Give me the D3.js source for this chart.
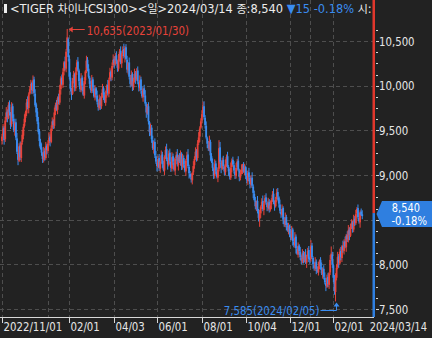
<!DOCTYPE html>
<html>
<head>
<meta charset="utf-8">
<script src="https://cdn.jsdelivr.net/npm/d3@7"></script>
<style>
  html, body { margin: 0; padding: 0; background: #222; }
  svg { display: block; }
  text { font-family: "Liberation Sans Narrow", "Arial Narrow", "DejaVu Sans Condensed", sans-serif; }
</style>
</head>
<body>
<svg id="chart" width="432" height="338"></svg>
<script>
// TIGER 차이나CSI300, daily candles 2022/11/01 - 2024/03/14
const opens = [
  9380,9440,9530,9400,9620,9710,9640,9790,9690,9570,
  9770,9630,9490,9590,9410,9250,9160,9330,9190,9370,
  9440,9550,9640,9690,9820,9750,9910,9950,10030,9940,
  10070,9910,9790,9710,9590,9490,9370,9310,9240,9170,
  9270,9190,9330,9270,9360,9430,9370,9530,9610,9550,
  9710,9790,9730,9870,9810,9960,10090,10010,10160,10270,
  10190,10400,10520,10300,10090,9950,9910,10060,10130,9970,
  10160,10270,10170,10040,9950,10090,9990,9890,10060,10170,
  10290,10190,10090,10010,9940,10070,9970,9870,9970,9890,
  9810,9750,9860,9770,9890,9970,9890,9810,9910,10010,
  9910,10070,10160,10090,10230,10300,10240,10340,10270,10190,
  10310,10390,10250,10360,10410,10320,10430,10290,10170,10260,
  10090,10010,10130,9980,10060,10140,10070,10170,10040,9970,
  10070,9940,9870,9970,9890,9790,9690,9770,9590,9470,
  9530,9390,9290,9370,9210,9140,9090,9190,9070,9160,
  9230,9110,9050,9210,9290,9170,9110,9250,9150,9070,
  9210,9140,9050,9190,9230,9110,9210,9140,9240,9090,
  9190,9110,9040,9170,9230,9090,9010,8970,8940,9030,
  9110,9190,9270,9190,9360,9430,9530,9610,9690,9770,
  9640,9550,9410,9340,9290,9370,9210,9140,9070,8990,
  9130,9040,8970,9070,9310,9140,9070,9170,9090,9030,
  9130,9210,9090,9030,8970,9090,9170,9110,9040,8990,
  9090,9160,9050,8970,9030,9070,9110,9030,9090,8990,
  8930,9030,8970,8890,8970,8870,8790,8710,8640,8710,
  8590,8510,8570,8650,8710,8610,8690,8750,8690,8630,
  8700,8610,8670,8730,8790,8690,8650,8730,8810,8750,
  8670,8590,8550,8630,8490,8440,8530,8430,8370,8430,
  8340,8290,8390,8250,8210,8310,8170,8110,8210,8140,
  8070,8030,8130,8050,8110,8020,8090,8160,8070,8060,
  8210,8070,7990,7950,8030,7940,7910,7990,8050,7970,
  7890,7950,7850,7790,7750,7860,7770,7910,8060,8110,
  7990,7840,7690,7850,7970,8090,8010,8150,8070,8210,
  8150,8260,8190,8330,8270,8390,8320,8430,8470,8390,
  8510,8460,8570,8630,8520,8470,8590,8560
];
const highs = [
  9460,9570,9550,9650,9760,9735,9815,9835,9705,9815,
  9800,9680,9600,9630,9470,9275,9355,9375,9375,9505,
  9570,9680,9720,9850,9880,9925,9995,10065,10045,10115,
  10100,9960,9810,9750,9650,9515,9405,9355,9255,9315,
  9300,9370,9350,9390,9480,9455,9555,9645,9625,9755,
  9810,9840,9880,9910,10010,10105,10125,10195,10275,10325,
  10410,10635,10540,10340,10150,9975,10085,10165,10145,10205,
  10290,10320,10190,10080,10140,10115,10025,10095,10175,10335,
  10320,10240,10110,10050,10120,10095,10005,10005,9985,9945,
  9840,9900,9880,9920,10020,9995,9925,9945,10015,10065,
  10090,10200,10180,10260,10350,10325,10365,10385,10285,10355,
  10410,10440,10370,10440,10470,10445,10465,10335,10265,10315,
  10120,10170,10150,10090,10190,10165,10195,10215,10055,10115,
  10100,9990,9980,10010,9950,9815,9795,9815,9605,9575,
  9560,9440,9380,9410,9270,9165,9215,9235,9165,9275,
  9260,9160,9220,9320,9350,9195,9275,9295,9165,9255,
  9240,9190,9200,9260,9290,9225,9245,9275,9255,9235,
  9220,9160,9180,9260,9290,9115,9045,9015,9035,9155,
  9210,9310,9290,9390,9480,9545,9635,9725,9820,9825,
  9670,9600,9430,9380,9440,9395,9245,9185,9085,9175,
  9160,9090,9080,9390,9370,9165,9195,9215,9105,9175,
  9230,9260,9110,9070,9140,9185,9205,9155,9055,9135,
  9180,9210,9070,9060,9120,9125,9145,9125,9105,9045,
  9050,9080,8990,9000,9030,8895,8825,8755,8715,8765,
  8620,8610,8660,8740,8770,8705,8775,8795,8705,8745,
  8730,8710,8740,8820,8850,8715,8755,8845,8855,8765,
  8725,8620,8670,8650,8530,8580,8555,8465,8465,8445,
  8395,8430,8410,8290,8360,8335,8205,8245,8225,8195,
  8100,8170,8150,8140,8170,8105,8185,8205,8085,8270,
  8240,8090,8030,8080,8055,7975,8025,8055,8080,8020,
  7960,7990,7910,7815,7885,7905,7915,8105,8200,8140,
  8010,7880,7900,8000,8140,8115,8175,8195,8215,8265,
  8280,8310,8340,8370,8440,8415,8455,8505,8485,8555,
  8540,8610,8640,8670,8580,8605,8625,8605
];
const lows = [
  9340,9420,9340,9370,9595,9590,9625,9665,9515,9540,
  9600,9480,9440,9390,9235,9110,9145,9165,9145,9340,
  9400,9530,9590,9660,9735,9690,9895,9915,9905,9910,
  9880,9760,9650,9570,9455,9320,9285,9215,9135,9140,
  9160,9170,9230,9240,9335,9320,9355,9495,9515,9520,
  9670,9720,9680,9790,9785,9900,10005,9975,10115,10170,
  10150,10380,10270,10070,9935,9840,9895,10025,9935,9940,
  10120,10160,10000,9930,9925,9940,9885,9855,10015,10140,
  10160,10080,9970,9920,9915,9920,9865,9835,9855,9790,
  9720,9730,9730,9740,9865,9840,9805,9775,9865,9890,
  9870,10050,10050,10060,10205,10190,10225,10245,10155,10160,
  10270,10240,10200,10330,10305,10260,10285,10145,10125,10070,
  9980,9990,9940,9950,10035,10020,10055,10015,9935,9940,
  9910,9860,9820,9870,9775,9640,9675,9565,9435,9440,
  9360,9280,9240,9190,9125,9040,9075,9045,9025,9130,
  9080,9040,9000,9180,9155,9060,9095,9125,9035,9040,
  9110,9040,9000,9160,9095,9050,9135,9105,9055,9060,
  9080,9030,8990,9140,9075,8960,8965,8915,8895,9000,
  9070,9170,9150,9160,9335,9370,9515,9575,9645,9620,
  9520,9400,9300,9270,9265,9160,9135,9045,8955,8960,
  9010,8960,8920,9040,9125,9020,9055,9065,8995,9000,
  9090,9080,8990,8950,8945,9030,9105,9015,8955,8960,
  9050,9040,8930,8940,9005,9010,9025,8995,8955,8910,
  8890,8930,8850,8860,8855,8740,8705,8615,8595,8570,
  8480,8420,8520,8620,8595,8550,8675,8665,8595,8600,
  8580,8590,8620,8700,8675,8600,8635,8695,8715,8635,
  8570,8520,8530,8450,8420,8415,8380,8365,8335,8305,
  8270,8270,8210,8190,8185,8120,8105,8075,8105,8050,
  8000,8010,8010,8020,8005,7960,8075,8025,8005,8030,
  8060,7950,7930,7925,7890,7905,7875,7945,7940,7880,
  7840,7830,7775,7700,7735,7745,7725,7880,8040,7960,
  7800,7660,7585,7820,7945,7960,7995,8045,8025,8130,
  8110,8180,8140,8250,8245,8270,8305,8395,8355,8360,
  8430,8440,8520,8500,8455,8410,8540,8505
];
const closes = [
  9430,9520,9390,9610,9700,9650,9780,9700,9560,9760,
  9640,9500,9580,9420,9260,9170,9320,9200,9360,9450,
  9540,9630,9700,9810,9760,9900,9960,10020,9950,10060,
  9920,9780,9700,9600,9480,9380,9300,9250,9180,9260,
  9200,9320,9280,9350,9420,9380,9520,9600,9560,9700,
  9780,9740,9860,9820,9950,10080,10020,10150,10260,10200,
  10380,10540,10320,10100,9960,9900,10050,10120,9980,10150,
  10260,10180,10050,9960,10080,10000,9900,10050,10160,10280,
  10200,10100,10020,9950,10060,9980,9880,9960,9900,9820,
  9760,9850,9780,9880,9960,9900,9820,9900,10000,9920,
  10060,10150,10100,10220,10290,10250,10330,10280,10200,10300,
  10380,10260,10350,10400,10330,10420,10300,10180,10250,10100,
  10020,10120,9990,10050,10130,10080,10160,10050,9980,10060,
  9950,9880,9960,9900,9800,9700,9760,9600,9480,9520,
  9400,9300,9360,9220,9150,9100,9180,9080,9150,9220,
  9120,9060,9200,9280,9180,9120,9240,9160,9080,9200,
  9150,9060,9180,9220,9120,9200,9150,9230,9100,9180,
  9120,9050,9160,9220,9100,9020,8980,8950,9020,9100,
  9180,9260,9200,9350,9420,9520,9600,9680,9760,9650,
  9560,9420,9350,9300,9380,9220,9150,9080,9000,9120,
  9050,8980,9060,9300,9150,9080,9160,9100,9040,9120,
  9200,9100,9040,8980,9080,9160,9120,9050,9000,9080,
  9150,9060,8980,9020,9060,9100,9040,9080,9000,8940,
  9020,8980,8900,8960,8880,8800,8720,8650,8700,8600,
  8520,8560,8640,8700,8620,8680,8740,8700,8640,8690,
  8620,8660,8720,8780,8700,8660,8720,8800,8760,8680,
  8600,8560,8620,8500,8450,8520,8440,8380,8420,8350,
  8300,8380,8260,8220,8300,8180,8120,8200,8150,8080,
  8040,8120,8060,8100,8030,8080,8150,8060,8050,8200,
  8080,8000,7960,8020,7950,7920,7980,8040,7980,7900,
  7940,7860,7800,7760,7850,7780,7900,8050,8120,8000,
  7850,7700,7840,7960,8080,8020,8140,8080,8200,8160,
  8250,8200,8320,8280,8380,8330,8420,8460,8400,8500,
  8470,8560,8620,8530,8480,8580,8555,8540
];

// KRX closed days in the range (weekends are skipped separately)
const holidays = [
  "2022-12-30","2023-01-23","2023-01-24","2023-03-01","2023-05-01","2023-05-05",
  "2023-05-29","2023-06-06","2023-08-15","2023-09-28","2023-09-29","2023-10-02",
  "2023-10-03","2023-10-09","2023-12-25","2023-12-29","2024-01-01","2024-02-09",
  "2024-02-12","2024-03-01"
];
const tickDates = ["2022-11-01","2023-02-01","2023-04-03","2023-06-01","2023-08-01","2023-10-04","2023-12-01","2024-02-01"];
const yearStarts = ["2023-01-02","2024-01-02"];
const priceTicks = [7500, 8000, 8500, 9000, 9500, 10000, 10500];

const RED = "#e8433a", BLUE = "#3a8cf0";
const right = 374, bottom = 317;

function tradingDays(start, end, skip) {
  const off = new Set(skip), out = [];
  const d = new Date(start + "T00:00:00Z"), last = new Date(end + "T00:00:00Z");
  for (; d <= last; d.setUTCDate(d.getUTCDate() + 1)) {
    const s = d.toISOString().slice(0, 10), wd = d.getUTCDay();
    if (wd === 0 || wd === 6 || off.has(s)) continue;
    out.push(s);
  }
  return out;
}
const dates = tradingDays("2022-11-01", "2024-03-14", holidays);
const n = closes.length;
const idx = s => dates.indexOf(s);

const x = d3.scaleLinear().domain([0, n - 1 + 11]).range([2, right]);
const y = d3.scaleLinear().domain([7500, 10500]).range([309, 41]);
const fmt = d3.format(",");
const slash = s => s.replace(/-/g, "/");

// the HTS font is a tall narrow bitmap face, squeeze glyphs to get close
function squeeze(sel, k) {
  sel.each(function () {
    const w = this.getComputedTextLength();
    d3.select(this).attr("textLength", w * k).attr("lengthAdjust", "spacingAndGlyphs");
  });
}

const svg = d3.select("#chart");
svg.append("rect").attr("width", 432).attr("height", 338).attr("fill", "#222");

// grid
const grid = svg.append("g").attr("stroke", "#4e4e4e").attr("stroke-dasharray", "4,3");
grid.selectAll(".hg").data(priceTicks).enter().append("line")
  .attr("x1", 0).attr("x2", right - 1)
  .attr("y1", d => Math.round(y(d)) + 0.5).attr("y2", d => Math.round(y(d)) + 0.5);
grid.selectAll(".vg").data(tickDates.concat(yearStarts)).enter().append("line")
  .attr("x1", d => Math.round(x(idx(d))) + 0.5).attr("x2", d => Math.round(x(idx(d))) + 0.5)
  .attr("y1", 0).attr("y2", bottom);

// candles
const candles = svg.append("g").selectAll("g").data(d3.range(n)).enter().append("g")
  .attr("fill", i => closes[i] >= opens[i] ? RED : BLUE)
  .attr("stroke", i => closes[i] >= opens[i] ? RED : BLUE);
candles.append("line")
  .attr("x1", i => x(i)).attr("x2", i => x(i))
  .attr("y1", i => y(highs[i])).attr("y2", i => y(lows[i]))
  .attr("stroke-width", 1);
candles.append("rect").attr("stroke", "none")
  .attr("x", i => x(i) - 0.9).attr("width", 1.8)
  .attr("y", i => y(Math.max(opens[i], closes[i])))
  .attr("height", i => Math.max(1, Math.abs(y(opens[i]) - y(closes[i]))));

// high / low markers
const hi = d3.maxIndex(highs), lo = d3.minIndex(lows);
const hx = x(hi) + 1.5, hy = Math.round(y(highs[hi])) + 0.5;
svg.append("line").attr("x1", hx + 2).attr("x2", hx + 16).attr("y1", hy).attr("y2", hy).attr("stroke", RED);
svg.append("path").attr("d", `M${hx},${hy}l4,-3v6z`).attr("fill", RED);
svg.append("text").attr("x", hx + 18).attr("y", hy + 5).attr("fill", RED).attr("font-size", 13)
  .text(`${fmt(highs[hi])}(${slash(dates[hi])})`).call(squeeze, 0.87);

const lx = Math.round(x(lo)) + 0.5, ly = y(lows[lo]);
svg.append("path").attr("d", `M${lx - 16},310.5H${lx}V${ly + 4}`).attr("fill", "none").attr("stroke", BLUE);
svg.append("path").attr("d", `M${lx},${ly + 1}l-3,4h6z`).attr("fill", BLUE);
svg.append("text").attr("x", lx - 17).attr("y", 315).attr("text-anchor", "end").attr("fill", BLUE).attr("font-size", 13)
  .text(`${fmt(lows[lo])}(${slash(dates[lo])})`).call(squeeze, 0.87);

// bottom axis
svg.append("line").attr("x1", 0).attr("x2", right).attr("y1", bottom + 0.5).attr("y2", bottom + 0.5).attr("stroke", "#d8d8d8");
const xt = svg.append("g").selectAll("g").data(tickDates).enter().append("g")
  .attr("transform", d => `translate(${Math.round(x(idx(d))) + 0.5},${bottom})`);
xt.append("line").attr("y1", 0).attr("y2", 6).attr("stroke", "#d8d8d8");
xt.append("text").attr("x", 1).attr("y", 14).attr("fill", "#e6e6e6").attr("font-size", 13)
  .text((d, i) => i === 0 ? slash(d) : slash(d.slice(5))).call(squeeze, 0.87);
svg.append("text").attr("x", 427).attr("y", bottom + 14).attr("text-anchor", "end")
  .attr("fill", "#e6e6e6").attr("font-size", 12)
  .text(slash(dates[n - 1])).call(squeeze, 0.92);

// right price axis: coloured spine split at the last close
const last = n - 1, cy = y(closes[last]);
const by = cy - 2;
svg.append("rect").attr("x", right - 1.5).attr("width", 2.5).attr("y", 0).attr("height", cy - 3).attr("fill", "#e0372c");
svg.append("rect").attr("x", right - 1.5).attr("width", 2.5).attr("y", cy - 3).attr("height", bottom - cy + 3).attr("fill", "#2f7fe0");
const ya = svg.append("g");
ya.selectAll(".mt").data(d3.range(7500, 10626, 125)).enter().append("line")
  .attr("x1", right + 2).attr("x2", right + 4)
  .attr("y1", d => Math.round(y(d)) + 0.5).attr("y2", d => Math.round(y(d)) + 0.5)
  .attr("stroke", "#d8d8d8");
ya.selectAll(".lt").data(priceTicks).enter().append("line")
  .attr("x1", right + 2).attr("x2", right + 5)
  .attr("y1", d => Math.round(y(d)) + 0.5).attr("y2", d => Math.round(y(d)) + 0.5)
  .attr("stroke", "#d8d8d8");
// labels hidden behind the last-price tag are left out
ya.selectAll("text").data(priceTicks.filter(d => Math.abs(y(d) - by) > 16)).enter().append("text")
  .attr("x", right + 5).attr("y", d => y(d) + 4.5).attr("fill", "#e6e6e6").attr("font-size", 13)
  .text(d => fmt(d)).call(squeeze, 0.87);

// last price tag
const chg = closes[last] - closes[last - 1];
const pct = (chg / closes[last - 1] * 100).toFixed(2);
svg.append("path").attr("d", `M${right + 2.5},${by}L${right + 8},${by - 13}H432V${by + 13}H${right + 8}Z`).attr("fill", "#2f7fe0");
svg.append("text").attr("x", 420).attr("y", by - 2).attr("text-anchor", "end").attr("fill", "#fff").attr("font-size", 11.5)
  .text(fmt(closes[last])).call(squeeze, 0.95);
svg.append("text").attr("x", 427).attr("y", by + 10.5).attr("text-anchor", "end").attr("fill", "#fff").attr("font-size", 11.5)
  .text(pct + "%").call(squeeze, 0.97);

// header
svg.append("clipPath").attr("id", "hclip").append("rect").attr("width", right - 2).attr("height", 18);
const head = svg.append("g").attr("clip-path", "url(#hclip)");
head.append("rect").attr("x", 4).attr("y", 4).attr("width", 3).attr("height", 9).attr("fill", "#eee");
const ht = head.append("text").attr("x", 10).attr("y", 13).attr("font-size", 12.7).attr("fill", "#ececec");
const ko = s => ht.append("tspan").attr("font-size", 11).attr("font-family", "Noto Sans CJK KR").text(s);
ht.append("tspan").text("<TIGER ");
ko("차이나");
ht.append("tspan").text("CSI300><");
ko("일");
ht.append("tspan").text(">" + slash(dates[last]) + " ");
ko("종");
ht.append("tspan").text(":" + fmt(closes[last]) + " ");
ht.append("tspan").attr("fill", BLUE).text((chg < 0 ? "▼" : "▲") + Math.abs(chg) + " " + pct + "%");
ht.append("tspan").text("  ");
ko("시");
ht.append("tspan").text(":" + fmt(opens[last]));
</script>
</body>
</html>
